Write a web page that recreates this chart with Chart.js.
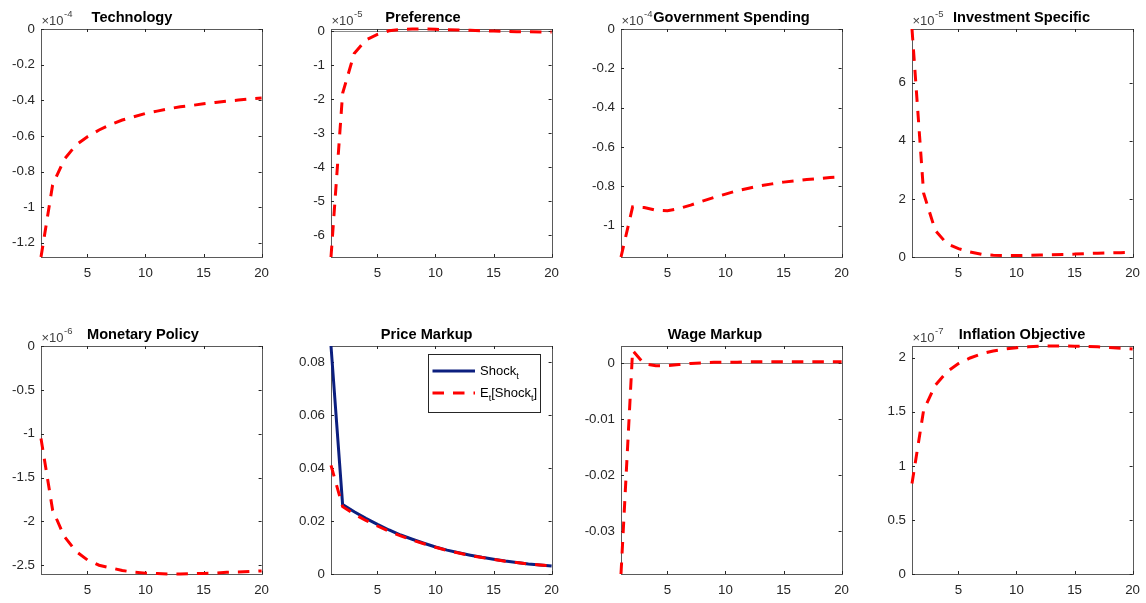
<!DOCTYPE html>
<html>
<head>
<meta charset="utf-8">
<script src="https://cdn.jsdelivr.net/npm/chart.js@4.4.1/dist/chart.umd.min.js"></script>
<style>
  html, body { margin: 0; padding: 0; background: #fff; }
  #fig { position: relative; width: 1146px; height: 603px; overflow: hidden; }
  .panel { position: absolute; width: 277px; height: 285px; }
</style>
</head>
<body>
<div id="fig"></div>
<script>
// impulse responses, periods 1..20 (values in units of the axis multiplier)
const periods = [1, 2, 3, 4, 5, 6, 7, 8, 9, 10, 11, 12, 13, 14, 15, 16, 17, 18, 19, 20];

const technology  = [-1.28, -0.876, -0.732, -0.652, -0.605, -0.567, -0.536, -0.511, -0.493, -0.474, -0.461, -0.448, -0.436, -0.429, -0.420, -0.412, -0.405, -0.399, -0.393, -0.388];
const preference  = [-6.64, -1.83, -0.66, -0.26, -0.10, 0.01, 0.05, 0.06, 0.06, 0.05, 0.04, 0.03, 0.02, 0.01, 0.0, -0.01, -0.02, -0.02, -0.03, -0.03];
const govSpending = [-1.16, -0.905, -0.908, -0.922, -0.925, -0.913, -0.896, -0.876, -0.857, -0.840, -0.823, -0.810, -0.798, -0.788, -0.779, -0.773, -0.766, -0.761, -0.756, -0.752];
const investment  = [7.85, 2.2, 0.92, 0.46, 0.29, 0.17, 0.09, 0.06, 0.05, 0.05, 0.06, 0.07, 0.08, 0.09, 0.10, 0.12, 0.13, 0.14, 0.15, 0.16];
const monetary    = [-1.055, -1.87, -2.17, -2.34, -2.44, -2.50, -2.53, -2.56, -2.58, -2.59, -2.595, -2.6, -2.6, -2.595, -2.593, -2.59, -2.58, -2.577, -2.57, -2.565];
const priceShock  = [0.086, 0.0262, 0.0235, 0.0210, 0.0187, 0.0166, 0.0147, 0.0131, 0.0116, 0.0102, 0.0090, 0.0080, 0.0071, 0.0063, 0.0056, 0.0049, 0.0043, 0.0038, 0.0034, 0.0030];
const priceExpect = [0.041, 0.0254, 0.0226, 0.0202, 0.0181, 0.0161, 0.0144, 0.0128, 0.0114, 0.0101, 0.0089, 0.0079, 0.0070, 0.0062, 0.0055, 0.0048, 0.0043, 0.0038, 0.0034, 0.0030];
const wage        = [-0.0376, 0.0022, -0.0002, -0.0005, -0.0005, -0.0003, -0.0001, 0, 0.0001, 0.0001, 0.0001, 0.0002, 0.0002, 0.0002, 0.0002, 0.0002, 0.0002, 0.0002, 0.0002, 0.0002];
const inflation   = [0.837, 1.514, 1.745, 1.868, 1.945, 1.997, 2.037, 2.062, 2.08, 2.092, 2.10, 2.106, 2.108, 2.108, 2.106, 2.104, 2.10, 2.094, 2.088, 2.08];

const titles    = ['Technology', 'Preference', 'Government Spending', 'Investment Specific',
                   'Monetary Policy', 'Price Markup', 'Wage Markup', 'Inflation Objective'];
const exponents = ['-4', '-5', '-4', '-5', '-6', null, null, '-7'];
const yLimits   = [[-1.28, 0], [-6.64, 0.06], [-1.16, 0], [0, 7.85],
                   [-2.6, 0], [0, 0.086], [-0.0376, 0.003], [0, 2.108]];
const yTicks    = [[-1.2, -1, -0.8, -0.6, -0.4, -0.2, 0],
                   [-6, -5, -4, -3, -2, -1, 0],
                   [-1, -0.8, -0.6, -0.4, -0.2, 0],
                   [0, 2, 4, 6],
                   [-2.5, -2, -1.5, -1, -0.5, 0],
                   [0, 0.02, 0.04, 0.06, 0.08],
                   [-0.03, -0.02, -0.01, 0],
                   [0, 0.5, 1, 1.5, 2]];
const xTicks    = [5, 10, 15, 20];
const expected  = [technology, preference, govSpending, investment, monetary, priceExpect, wage, inflation];

const FONT = "'Liberation Sans', Arial, Helvetica, sans-serif";
const RED = '#ff0000';
const NAVY = '#0c1f7f';
const DASH = [11.5, 9];

// plot-area geometry (matlab subplot positions)
const colLeft = [41, 331, 621, 912];
const rowTop = [29, 346];
const titleOffset = [91, 92, 110.5, 109.5, 102, 95.7, 94, 110];

function pts(arr) {
    return periods.map(function(p, i) { return { x: p, y: arr[i] }; });
}

const matlabAxes = {
    id: 'matlabAxes',
    beforeDatasetsDraw: function(chart, args, opts) {
        const a = chart.chartArea, ctx = chart.ctx;
        const xs = chart.scales.x, ys = chart.scales.y;
        ctx.save();
        if (ys.min < 0 && ys.max > 0) {
            const y0 = Math.round(ys.getPixelForValue(0)) + 0.5;
            ctx.strokeStyle = '#8c8c8c';
            ctx.lineWidth = 1;
            ctx.beginPath();
            ctx.moveTo(a.left, y0);
            ctx.lineTo(a.right, y0);
            ctx.stroke();
        }
        // box
        ctx.strokeStyle = '#5a5a5a';
        ctx.lineWidth = 1;
        ctx.strokeRect(Math.round(a.left) + 0.5, Math.round(a.top) + 0.5,
                       Math.round(a.right - a.left), Math.round(a.bottom - a.top));
        // inward ticks
        ctx.strokeStyle = '#262626';
        ctx.beginPath();
        xTicks.forEach(function(v) {
            const px = Math.round(xs.getPixelForValue(v)) + 0.5;
            ctx.moveTo(px, a.bottom); ctx.lineTo(px, a.bottom - 3);
            ctx.moveTo(px, a.top); ctx.lineTo(px, a.top + 3);
        });
        opts.yTicks.forEach(function(v) {
            const py = Math.round(ys.getPixelForValue(v)) + 0.5;
            ctx.moveTo(a.left, py); ctx.lineTo(a.left + 3, py);
            ctx.moveTo(a.right, py); ctx.lineTo(a.right - 3, py);
        });
        ctx.stroke();
        ctx.restore();
    },
    afterDraw: function(chart, args, opts) {
        const a = chart.chartArea, ctx = chart.ctx;
        ctx.save();
        // exponent label
        if (opts.exponent) {
            ctx.fillStyle = '#404040';
            ctx.textBaseline = 'alphabetic';
            ctx.textAlign = 'left';
            ctx.font = '13px ' + FONT;
            ctx.fillText('\u00d710', a.left + 0.5, a.top - 4);
            const w = ctx.measureText('\u00d710').width;
            ctx.font = '9.5px ' + FONT;
            ctx.fillText(opts.exponent, a.left + 1 + w, a.top - 12);
        }
        // title
        ctx.fillStyle = '#000';
        ctx.font = 'bold 14.6px ' + FONT;
        ctx.textAlign = 'center';
        ctx.textBaseline = 'alphabetic';
        ctx.fillText(opts.title, a.left + opts.titleOffset, a.top - 7);

        if (opts.legend) drawLegend(ctx, a);
        ctx.restore();
    }
};

function subText(ctx, parts, x, y) {
    parts.forEach(function(p) {
        ctx.font = (p[1] ? '9px ' : '13px ') + FONT;
        ctx.fillText(p[0], x, y + (p[1] ? 3.5 : 0));
        x += ctx.measureText(p[0]).width;
    });
}

function drawLegend(ctx, a) {
    const lx = a.left + 97, ly = a.top + 8, lw = 112, lh = 58;
    ctx.fillStyle = '#fff';
    ctx.fillRect(lx, ly, lw, lh);
    ctx.strokeStyle = '#262626';
    ctx.lineWidth = 1;
    ctx.strokeRect(lx + 0.5, ly + 0.5, lw, lh);

    ctx.lineWidth = 3;
    ctx.strokeStyle = NAVY;
    ctx.beginPath();
    ctx.moveTo(lx + 4.5, ly + 17); ctx.lineTo(lx + 47, ly + 17);
    ctx.stroke();
    ctx.strokeStyle = RED;
    ctx.setLineDash(DASH);
    ctx.beginPath();
    ctx.moveTo(lx + 4.5, ly + 39); ctx.lineTo(lx + 47, ly + 39);
    ctx.stroke();
    ctx.setLineDash([]);

    ctx.fillStyle = '#000';
    ctx.textAlign = 'left';
    ctx.textBaseline = 'alphabetic';
    subText(ctx, [['Shock', false], ['t', true]], lx + 52, ly + 21);
    subText(ctx, [['E', false], ['t', true], ['[Shock', false], ['t', true], [']', false]], lx + 52, ly + 43);
}

Chart.register(matlabAxes);

const fig = document.getElementById('fig');

titles.forEach(function(title, i) {
    const col = i % 4, row = Math.floor(i / 4);
    const div = document.createElement('div');
    div.className = 'panel';
    div.style.left = (colLeft[col] - 41) + 'px';
    div.style.top = (rowTop[row] - 29) + 'px';
    const cv = document.createElement('canvas');
    cv.width = 277;
    cv.height = 285;
    div.appendChild(cv);
    fig.appendChild(div);

    const datasets = [{
        data: pts(expected[i]),
        borderColor: RED,
        borderWidth: 3,
        borderDash: DASH,
        borderCapStyle: 'butt',
        pointRadius: 0,
        tension: 0,
        clip: 3
    }];
    if (i === 5) {
        datasets.push({
            data: pts(priceShock),
            borderColor: NAVY,
            borderWidth: 3,
            pointRadius: 0,
            tension: 0,
            clip: 3
        });
    }

    new Chart(cv, {
        type: 'line',
        data: { datasets: datasets },
        options: {
            responsive: false,
            animation: false,
            devicePixelRatio: 1,
            layout: { padding: { top: 29, right: 15, left: 0, bottom: 0 } },
            plugins: {
                legend: { display: false },
                tooltip: { enabled: false },
                matlabAxes: {
                    title: title,
                    exponent: exponents[i],
                    yTicks: yTicks[i],
                    titleOffset: titleOffset[i],
                    legend: i === 5
                }
            },
            scales: {
                x: {
                    type: 'linear',
                    min: 1,
                    max: 20,
                    afterBuildTicks: function(s) { s.ticks = xTicks.map(function(v) { return { value: v }; }); },
                    afterFit: function(s) { s.height = 28; },
                    grid: { display: false, drawTicks: false },
                    border: { display: false },
                    ticks: { color: '#262626', font: { size: 13.3, family: FONT }, padding: 8, maxRotation: 0, autoSkip: false }
                },
                y: {
                    type: 'linear',
                    min: yLimits[i][0],
                    max: yLimits[i][1],
                    afterBuildTicks: function(s) { s.ticks = yTicks[i].map(function(v) { return { value: v }; }); },
                    afterFit: function(s) { s.width = 41; },
                    grid: { display: false, drawTicks: false },
                    border: { display: false },
                    ticks: {
                        color: '#262626',
                        font: { size: 13.3, family: FONT },
                        padding: 6,
                        autoSkip: false,
                        callback: function(v) { return String(v); }
                    }
                }
            }
        }
    });
});
</script>
</body>
</html>
